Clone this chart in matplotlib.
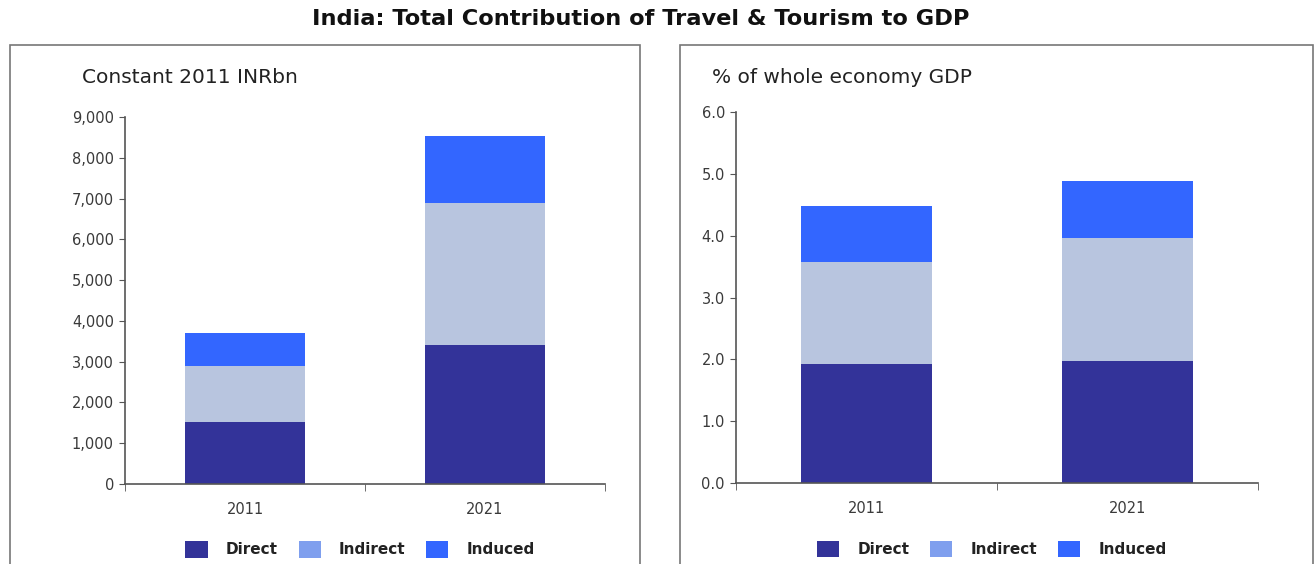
import matplotlib
matplotlib.use("Agg")
import matplotlib.pyplot as plt
from matplotlib.patches import Rectangle, Patch
from matplotlib.ticker import FuncFormatter

plt.rcParams['font.family'] = ['DejaVu Sans']

years = ["2011", "2021"]
series = ["Direct", "Indirect", "Induced"]
inr_direct = [1520, 3410]
inr_indirect = [1370, 3480]
inr_induced = [810, 1640]
pct_direct = [1.93, 1.97]
pct_indirect = [1.65, 1.99]
pct_induced = [0.90, 0.93]

bar_colors = ["#333399", "#B8C5DF", "#3366FF"]
legend_colors = ["#333399", "#7F9FEE", "#3366FF"]
text_col = "#3a3a3a"
axis_col = "#555555"

fig = plt.figure(figsize=(13.16, 5.64), dpi=100)
fig.text(0.487, 0.967, "India: Total Contribution of Travel & Tourism to GDP",
         ha="center", va="center", fontsize=16.2, fontweight="bold", color="#111111")

# panel borders
for x0, x1 in [(10, 640), (680, 1313)]:
    fig.add_artist(Rectangle((x0 / 1316, -0.05), (x1 - x0) / 1316, 1.05 - 45 / 564,
                             transform=fig.transFigure, fill=False,
                             edgecolor="#777777", linewidth=1.2))

def draw(ax, d, ind, indu, ylim, yticks, fmt, subtitle, sub_x):
    x = list(range(len(years)))
    b1 = [d[i] for i in x]
    b2 = [d[i] + ind[i] for i in x]
    ax.bar(x, d, width=0.5, color=bar_colors[0], zorder=2)
    ax.bar(x, ind, width=0.5, bottom=b1, color=bar_colors[1], zorder=2)
    ax.bar(x, indu, width=0.5, bottom=b2, color=bar_colors[2], zorder=2)
    ax.set_xlim(-0.5, len(years) - 0.5)
    ax.set_ylim(*ylim)
    ax.set_yticks(yticks)
    ax.yaxis.set_major_formatter(FuncFormatter(fmt))
    ax.set_xticks(x)
    ax.set_xticklabels(years)
    ax.set_xticks([-0.5, 0.5, 1.5], minor=True)
    ax.tick_params(axis="x", which="major", length=0, pad=13, labelsize=10.5, labelcolor=text_col)
    ax.tick_params(axis="x", which="minor", length=5, color=axis_col, direction="out")
    ax.tick_params(axis="y", length=4, color=axis_col, labelsize=10.5, labelcolor=text_col, pad=4)
    for s in ["top", "right"]:
        ax.spines[s].set_visible(False)
    for s in ["left", "bottom"]:
        ax.spines[s].set_color(axis_col)
        ax.spines[s].set_linewidth(1.2)
    fig.text(sub_x / 1316, 1 - 77 / 564, subtitle, ha="left", va="center",
             fontsize=14.5, color="#222222")
    handles = [Patch(facecolor=c, edgecolor="none") for c in legend_colors]
    leg = ax.legend(handles, series, loc="center", bbox_to_anchor=(0.49, -0.178), ncol=3,
                    frameon=False, handlelength=1.45, handleheight=1.3,
                    columnspacing=1.35, handletextpad=1.2,
                    prop={"weight": "bold", "size": 11})
    for t in leg.get_texts():
        t.set_color("#222222")

ax1 = fig.add_axes([125 / 1316, 1 - 484 / 564, 480 / 1316, 367 / 564])
draw(ax1, inr_direct, inr_indirect, inr_induced, (0, 9000), list(range(0, 9001, 1000)),
     lambda v, p: f"{int(v):,}", "Constant 2011 INRbn", 82)

ax2 = fig.add_axes([736 / 1316, 1 - 483 / 564, 522 / 1316, 371 / 564])
draw(ax2, pct_direct, pct_indirect, pct_induced, (0, 6.0), [0, 1, 2, 3, 4, 5, 6],
     lambda v, p: f"{v:.1f}", "% of whole economy GDP", 712)

fig.savefig("out.png", dpi=100, facecolor="white")
